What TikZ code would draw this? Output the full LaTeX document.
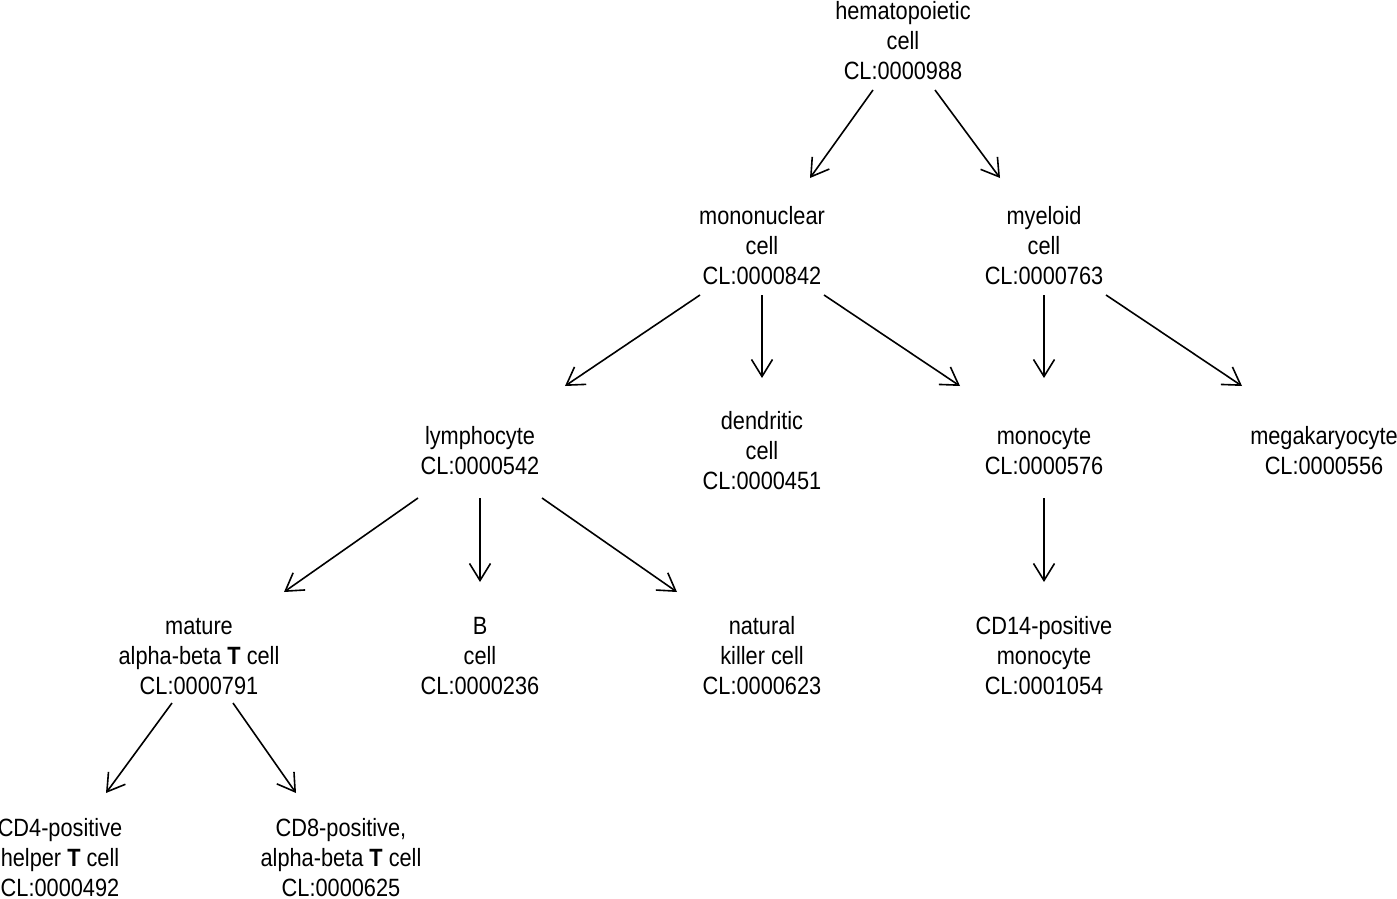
\documentclass[tikz,border=0pt]{standalone}
\usepackage{fontspec}
\setmainfont[FakeStretch=0.87]{Liberation Sans}
\usetikzlibrary{arrows.meta}
\begin{document}
\begin{tikzpicture}[x=1pt,y=-1pt,
  lbl/.style={anchor=base,align=center,inner sep=0pt,font=\fontsize{25pt}{30pt}\selectfont},
  arr/.style={line width=1.6pt,-{Straight Barb[length=17pt,width=21pt,line width=1.6pt]}}]
\useasboundingbox (0,0) rectangle (1397,899);
\node[lbl] (hem) at (903,80) {hematopoietic\\cell\\CL:0000988};
\node[lbl] (mono) at (762,284) {mononuclear\\cell\\CL:0000842};
\node[lbl] (mye) at (1044,284) {myeloid\\cell\\CL:0000763};
\node[lbl] (lym) at (480,474) {lymphocyte\\CL:0000542};
\node[lbl] (den) at (762,489) {dendritic\\cell\\CL:0000451};
\node[lbl] (mcy) at (1044,474) {monocyte\\CL:0000576};
\node[lbl] (meg) at (1324,474) {megakaryocyte\\CL:0000556};
\node[lbl] (mat) at (199,694) {mature\\alpha-beta \textbf{T} cell\\CL:0000791};
\node[lbl] (bc) at (480,694) {B\\cell\\CL:0000236};
\node[lbl] (nk) at (762,694) {natural\\killer cell\\CL:0000623};
\node[lbl] (cd14) at (1044,694) {CD14-positive\\monocyte\\CL:0001054};
\node[lbl] (cd4) at (60,896) {CD4-positive\\helper \textbf{T} cell\\CL:0000492};
\node[lbl] (cd8) at (341,896) {CD8-positive,\\alpha-beta \textbf{T} cell\\CL:0000625};
\draw[arr] ([shift={(-30,10)}]hem.base) -- ([shift={(48,-106)}]mono.base);
\draw[arr] ([shift={(32,10)}]hem.base) -- ([shift={(-44,-106)}]mye.base);
\draw[arr] ([shift={(-62,11)}]mono.base) -- ([shift={(85,-88)}]lym.base);
\draw[arr] ([shift={(0,11)}]mono.base) -- ([shift={(0,-111)}]den.base);
\draw[arr] ([shift={(62,11)}]mono.base) -- ([shift={(-84,-88)}]mcy.base);
\draw[arr] ([shift={(0,11)}]mye.base) -- ([shift={(0,-96)}]mcy.base);
\draw[arr] ([shift={(62,11)}]mye.base) -- ([shift={(-82,-88)}]meg.base);
\draw[arr] ([shift={(-62,24)}]lym.base) -- ([shift={(85,-102)}]mat.base);
\draw[arr] ([shift={(0,24)}]lym.base) -- ([shift={(0,-112)}]bc.base);
\draw[arr] ([shift={(62,24)}]lym.base) -- ([shift={(-85,-102)}]nk.base);
\draw[arr] ([shift={(0,24)}]mcy.base) -- ([shift={(0,-112)}]cd14.base);
\draw[arr] ([shift={(-27,9)}]mat.base) -- ([shift={(46,-103)}]cd4.base);
\draw[arr] ([shift={(34,9)}]mat.base) -- ([shift={(-45,-103)}]cd8.base);
\end{tikzpicture}
\end{document}
